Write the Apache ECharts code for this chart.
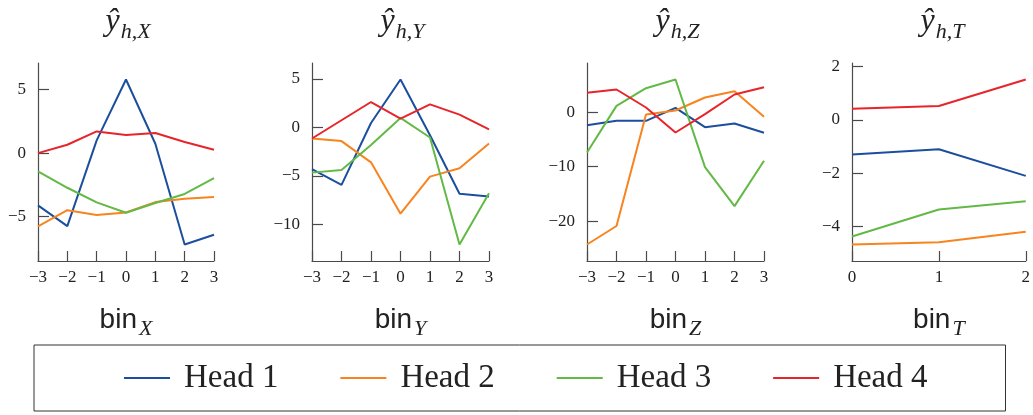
<!DOCTYPE html>
<html>
<head>
<meta charset="utf-8">
<script src="https://cdn.jsdelivr.net/npm/echarts@6.0.0/dist/echarts.min.js"></script>
<style>
html,body{margin:0;padding:0;background:#fff;}
#c{width:1033px;height:415px;}
</style>
</head>
<body>
<div id="c"></div>
<script>
// ---- data ----
const heads = ['Head 1', 'Head 2', 'Head 3', 'Head 4'];
const binsXYZ = [-3, -2, -1, 0, 1, 2, 3];
const binsT = [0, 1, 2];

const xHead1 = [-4.12, -5.75, 1.0, 5.8, 0.74, -7.2, -6.43];
const xHead2 = [-5.77, -4.5, -4.88, -4.67, -3.86, -3.6, -3.46];
const xHead3 = [-1.44, -2.73, -3.88, -4.7, -3.93, -3.22, -1.97];
const xHead4 = [0.0, 0.66, 1.71, 1.42, 1.58, 0.87, 0.26];

const yHead1 = [-4.3, -5.91, 0.47, 4.95, -0.79, -6.83, -7.1];
const yHead2 = [-1.13, -1.4, -3.59, -8.88, -5.06, -4.2, -1.64];
const yHead3 = [-4.65, -4.37, -1.81, 0.99, -1.03, -12.06, -6.77];
const yHead4 = [-1.13, 0.75, 2.63, 0.92, 2.39, 1.33, -0.2];

const zHead1 = [-2.39, -1.59, -1.59, 0.8, -2.75, -2.08, -3.79];
const zHead2 = [-24.3, -20.9, -0.43, 0.3, 2.69, 3.85, -0.86];
const zHead3 = [-7.4, 1.16, 4.4, 6.0, -10.1, -17.25, -8.93];
const zHead4 = [3.55, 4.16, 0.86, -3.73, -0.37, 3.24, 4.59];

const tHead1 = [-1.3, -1.1, -2.1];
const tHead2 = [-4.67, -4.59, -4.19];
const tHead3 = [-4.37, -3.36, -3.05];
const tHead4 = [0.41, 0.52, 1.51];

const yTicksX = [-5, 0, 5];
const yTicksY = [-10, -5, 0, 5];
const yTicksZ = [-20, -10, 0];
const yTicksT = [-4, -2, 0, 2];

const panelLetters = ['X', 'Y', 'Z', 'T'];
const colors = ['#1b4f9e', '#f7841f', '#63b946', '#e8242b'];

// ---- layout ----
const panels = [
  { bins: binsXYZ, series: [xHead1, xHead2, xHead3, xHead4], yTicks: yTicksX, left: 38, width: 176 },
  { bins: binsXYZ, series: [yHead1, yHead2, yHead3, yHead4], yTicks: yTicksY, left: 312, width: 177 },
  { bins: binsXYZ, series: [zHead1, zHead2, zHead3, zHead4], yTicks: yTicksZ, left: 587, width: 177 },
  { bins: binsT, series: [tHead1, tHead2, tHead3, tHead4], yTicks: yTicksT, left: 852, width: 177 }
];
const gridTop = 63, gridHeight = 198;
const axisColor = '#4a4a4a';
const fmt = v => String(v).replace('-', '\u2212');

const grids = [], xAxes = [], yAxes = [], series = [], titles = [];
panels.forEach((p, pi) => {
  grids.push({ left: p.left, top: gridTop, width: p.width, height: gridHeight, containLabel: false });
  const all = [].concat(...p.series);
  const dmin = Math.min(...all), dmax = Math.max(...all);
  const pad = 0.1 * (dmax - dmin);
  xAxes.push({
    type: 'value', gridIndex: pi,
    min: p.bins[0], max: p.bins[p.bins.length - 1], interval: 1,
    axisLine: { show: true, onZero: false, lineStyle: { color: axisColor, width: 1.2 } },
    axisTick: { show: true, inside: true, length: 10, lineStyle: { color: axisColor, width: 1.2 }, customValues: p.bins },
    axisLabel: { show: true, margin: 8, formatter: fmt, customValues: p.bins,
      fontFamily: 'Liberation Serif', fontSize: 17, color: '#222', showMinLabel: true, showMaxLabel: true },
    splitLine: { show: false },
    name: '{b|bin}{s|' + panelLetters[pi] + '}',
    nameLocation: 'middle', nameGap: 45,
    nameTextStyle: {
      rich: {
        b: { fontFamily: 'Liberation Sans', fontSize: 28, color: '#222', verticalAlign: 'bottom', padding: [0, 2, 6, 0] },
        s: { fontFamily: 'Liberation Serif', fontStyle: 'italic', fontSize: 22, color: '#222', verticalAlign: 'bottom' }
      }
    }
  });
  yAxes.push({
    type: 'value', gridIndex: pi,
    min: dmin - pad, max: dmax + pad,
    axisLine: { show: true, onZero: false, lineStyle: { color: axisColor, width: 1.2 } },
    axisTick: { show: true, inside: true, length: 11, lineStyle: { color: axisColor, width: 1.2 }, customValues: p.yTicks },
    axisLabel: { show: true, margin: 12, formatter: fmt, customValues: p.yTicks,
      fontFamily: 'Liberation Serif', fontSize: 17, color: '#222' },
    splitLine: { show: false }
  });
  titles.push({
    text: '{y|\u0177}{s|h,' + panelLetters[pi] + '}',
    left: p.left + p.width / 2 - 3, top: 1, textAlign: 'center',
    textStyle: {
      fontWeight: 'normal',
      rich: {
        y: { fontFamily: 'Liberation Serif', fontStyle: 'italic', fontWeight: 'normal', fontSize: 32, color: '#222', verticalAlign: 'bottom', padding: [0, 1, 5, 0] },
        s: { fontFamily: 'Liberation Serif', fontStyle: 'italic', fontWeight: 'normal', fontSize: 22, color: '#222', verticalAlign: 'bottom' }
      }
    }
  });
  p.series.forEach((vals, hi) => {
    series.push({
      type: 'line', name: heads[hi], xAxisIndex: pi, yAxisIndex: pi,
      data: p.bins.map((b, i) => [b, vals[i]]),
      symbol: 'none', showSymbol: false,
      lineStyle: { color: colors[hi], width: 2 },
      itemStyle: { color: colors[hi] },
      z: 2 + hi
    });
  });
});

const chart = echarts.init(document.getElementById('c'), null, { renderer: 'canvas' });
chart.setOption({
  animation: false,
  backgroundColor: '#fff',
  title: titles,
  grid: grids,
  xAxis: xAxes,
  yAxis: yAxes,
  series: series,
  legend: {
    data: heads,
    left: 34, top: 345,
    orient: 'horizontal',
    icon: 'rect', itemWidth: 46, itemHeight: 2, itemGap: 62,
    borderColor: '#333', borderWidth: 1,
    padding: [15, 78, 15, 90],
    textStyle: { fontFamily: 'Liberation Serif', fontSize: 33, color: '#222', lineHeight: 36, padding: [0, 0, 0, 9] }
  }
});
</script>
</body>
</html>
